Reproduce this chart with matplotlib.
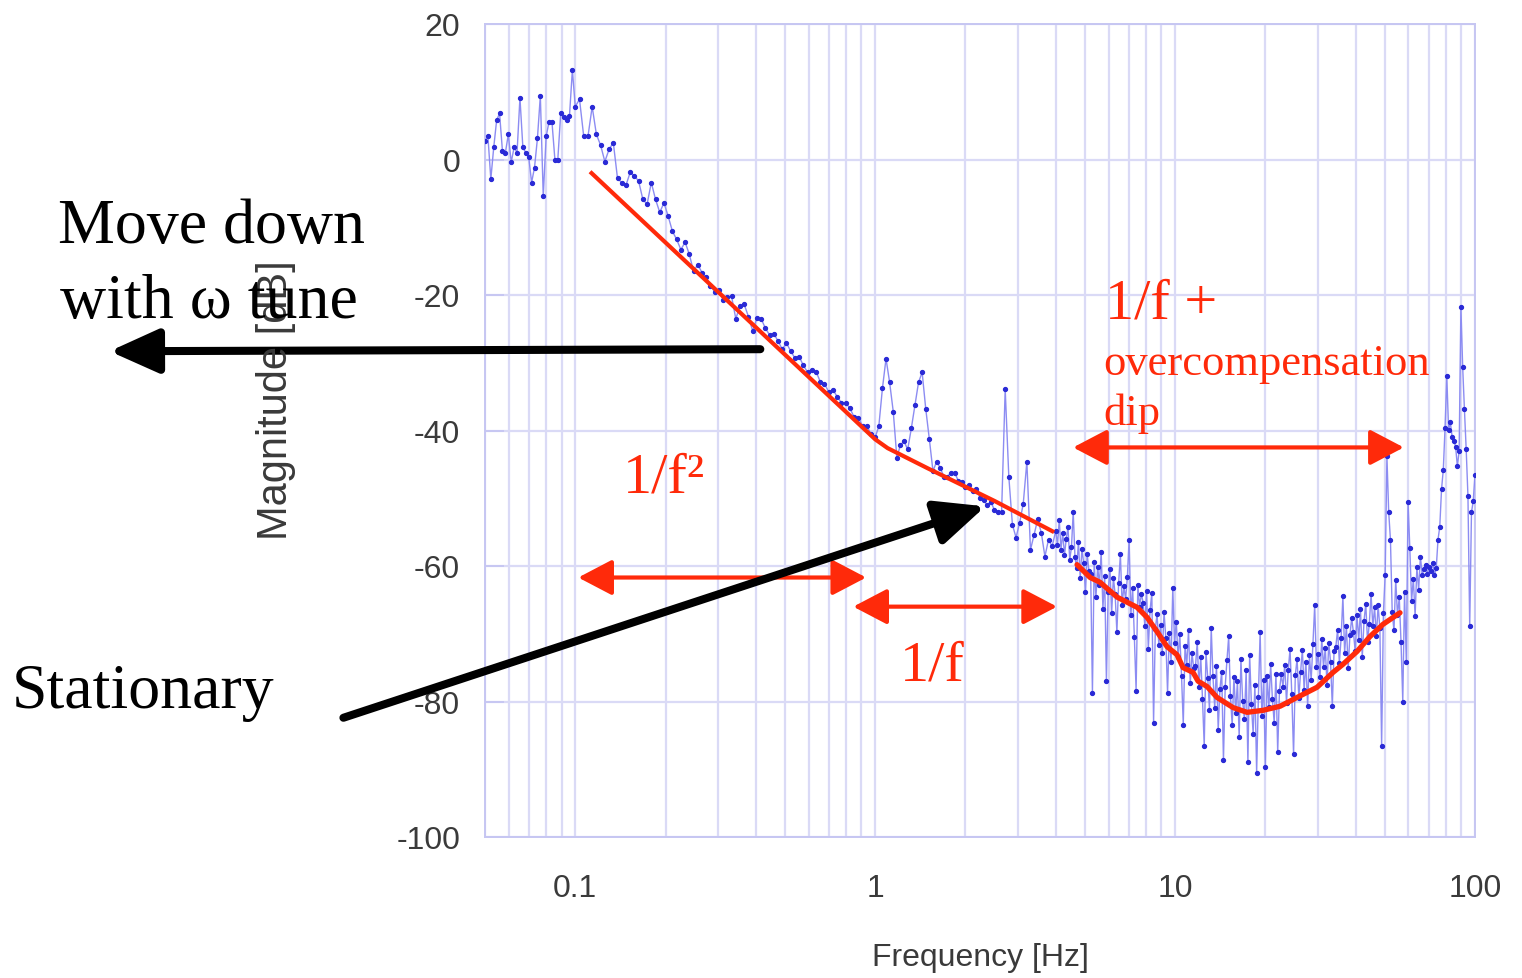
import numpy as np
import matplotlib
matplotlib.use("Agg")
import matplotlib.pyplot as plt
from matplotlib.ticker import FixedLocator, LogLocator, NullFormatter

plt.rcParams["axes.unicode_minus"] = False

# Measured magnitude (dB), one list per frequency band
mag_005_01 = [2.7, 3.4, -2.9, 1.8, 5.8, 6.8, 1.2, 1.0, 3.7, -0.4, 1.8, 1.0, 9.1, 1.8, 1.0,
              0.4, -3.4, -1.2, 3.1, 9.4, -5.4, 3.4, 5.6, 5.5, 0.0, 0.0, 6.8, 6.2, 5.9, 6.4, 13.2]

mag_01_1 = [7.8, 8.9, 3.4, 3.4, 7.8, 3.7, 2.1, -0.3, 1.5, 2.5, -2.8, -3.4, -3.8, -1.9, -2.4,
            -3.2, -5.9, -6.6, -3.4, -5.9, -7.8, -6.4, -8.4, -10.6, -11.8, -13.3, -12.2, -14.0,
            -16.5, -15.5, -16.7, -17.4, -18.7, -19.5, -19.3, -20.7, -20.3, -20.2, -23.5, -21.6,
            -21.4, -23.2, -25.3, -23.4, -23.5, -24.9, -25.9, -25.7, -26.8, -28.0, -27.1, -28.3,
            -29.3, -29.1, -30.4, -31.4, -31.1, -31.3, -32.8, -33.1, -34.3, -34.0, -35.0, -35.9,
            -35.9, -36.7, -38.0, -38.1, -39.3, -39.3, -40.5]

mag_1_4 = [-41.0, -39.4, -33.8, -29.4, -32.9, -37.2, -44.0, -42.1, -41.6, -42.8,
           -39.7, -36.3, -32.9, -31.4, -36.8, -41.3, -46.0, -44.6, -45.5, -46.8,
           -46.8, -46.2, -46.2, -47.4, -47.6, -48.3, -48.0, -49.0, -48.6, -49.9,
           -50.3, -51.0, -50.5, -51.7, -52.0, -52.1, -33.9, -46.8, -53.9, -55.8,
           -53.6, -50.8, -44.6, -57.6, -55.4, -53.1, -55.1, -58.6, -56.1, -57.1]

mag_4_20 = [-54.8, -56.9, -53.2, -57.6, -55.1, -58.4, -56.0, -54.3, -59.1, -57.2,
            -52.0, -58.7, -60.3, -56.4, -61.8, -57.5, -59.6, -63.9, -58.2, -60.8,
            -61.2, -78.7, -59.4, -64.6, -60.1, -62.8, -57.9, -66.3, -61.5, -77.0,
            -63.8, -60.4, -66.9, -61.7, -64.2, -69.8, -62.5, -58.3, -65.7, -63.0,
            -64.9, -61.6, -56.1, -67.3, -63.2, -70.5, -78.4, -62.8, -66.0, -64.1,
            -65.4, -68.9, -63.7, -72.2, -66.5, -64.0, -83.1, -69.3, -67.1, -71.6,
            -68.7, -72.9, -66.8, -70.6, -78.7, -69.9, -74.1, -63.2, -71.4, -68.2,
            -73.5, -70.1, -76.2, -83.4, -71.8, -74.6, -69.5, -77.3, -72.9, -75.1,
            -74.8, -71.2, -77.9, -73.4, -79.6, -86.6, -72.7, -76.5, -81.2, -69.1,
            -76.3, -80.9, -74.7, -84.2, -78.1, -75.6, -88.7, -77.8, -73.9, -70.4,
            -79.2, -83.5, -76.4, -81.7, -77.0, -85.3, -73.8, -79.9, -82.6, -75.4,
            -89.0, -73.1, -80.4, -84.8, -77.6, -90.5, -79.3, -69.7, -82.1, -76.8]

mag_20_100 = [-89.6, -76.2, -80.8, -74.5, -79.7, -83.1, -75.9, -87.5, -78.4, -76.0,
              -77.8, -74.6, -80.2, -75.3, -72.3, -78.9, -87.8, -76.1, -73.7, -79.5,
              -75.6, -72.4, -78.3, -74.1, -80.7, -73.2, -76.8, -71.5, -65.8, -74.9,
              -73.0, -76.4, -70.8, -74.9, -72.1, -77.6, -71.3, -74.2, -80.7, -72.5,
              -71.9, -69.4, -74.3, -70.6, -64.5, -72.8, -68.9, -75.1, -70.2, -67.7,
              -69.8, -72.6, -67.3, -70.9, -66.4, -73.5, -68.1, -65.6, -71.2, -68.5,
              -64.2, -68.9, -66.1, -70.4, -65.8, -69.2, -86.6, -67.0, -61.3, -43.8,
              -52.0, -56.1, -66.8, -69.5, -62.0, -67.3, -64.6, -71.2, -80.0, -63.8,
              -74.2, -50.5, -57.4, -65.1, -61.9, -67.4, -60.2, -63.5, -58.6, -61.3,
              -60.5, -59.8, -61.2, -60.1, -60.8, -59.5, -61.4, -60.3, -56.1, -54.2,
              -48.7, -45.8, -39.6, -32.0, -39.9, -38.8, -40.9, -41.5, -42.4, -45.3,
              -43.0, -21.8, -30.6, -36.9, -42.8, -49.7, -68.9, -52.1, -50.4, -46.5]

# Frequency bands (Hz) the lists above are sampled on, log-spaced within each band
bands = [(0.05, 0.1, False), (0.1, 1.0, False), (1.0, 4.0, False),
         (4.0, 20.0, False), (20.0, 100.0, True)]
mags = [mag_005_01, mag_01_1, mag_1_4, mag_4_20, mag_20_100]

# Hand-fitted trend lines
fit_freq = [0.112, 1.0, 1.1, 1.5, 2.5, 3.95]
fit_db = [-1.8, -41.3, -42.6, -45.6, -50.4, -55.0]

dip_freq = [4.71, 5.21, 5.62, 6.41, 7.47, 8.07, 8.71, 9.40, 10.15, 10.63, 11.48, 11.93, 12.79,
            13.80, 15.61, 17.38, 19.65, 22.39, 25.51, 29.74, 33.63, 36.31, 40.45, 44.67,
            49.36, 56.23]
dip_db = [-59.8, -61.7, -62.4, -64.6, -66.1, -67.6, -69.7, -71.9, -73.1, -75.0, -75.7, -77.0,
          -77.8, -79.4, -80.9, -81.6, -81.3, -80.7, -79.4, -77.9, -75.7, -74.5, -72.6, -70.4,
          -68.6, -66.9]

# Frequency ranges of each regime: (start Hz, end Hz, level dB)
regime_ranges = [(0.1023, 0.933, -61.7), (0.845, 4.04, -66.0), (4.57, 57.9, -42.5)]

x_ticks = [0.1, 1, 10, 100]
x_tick_labels = ["0.1", "1", "10", "100"]
y_ticks = [20, 0, -20, -40, -60, -80, -100]

RED = "#ff2a0a"
SANS = "Liberation Sans"
SERIF = "Liberation Serif"

freq = np.concatenate([np.geomspace(lo, hi, len(m), endpoint=ep)
                       for (lo, hi, ep), m in zip(bands, mags)])
mag = np.concatenate([np.asarray(m, dtype=float) for m in mags])

W, H = 1522, 979
fig = plt.figure(figsize=(W / 100, H / 100), dpi=100)
fig.patch.set_facecolor("white")
ax = fig.add_axes([485 / W, 1 - 838 / H, 990 / W, 813 / H])

ax.set_xscale("log")
ax.set_xlim(0.05, 100)
ax.set_ylim(-100, 20)

grid_c = "#dadaf6"
ax.xaxis.set_major_locator(FixedLocator(x_ticks))
ax.set_xticklabels(x_tick_labels)
ax.xaxis.set_minor_locator(LogLocator(base=10, subs=np.arange(2, 10)))
ax.xaxis.set_minor_formatter(NullFormatter())
ax.set_yticks(y_ticks)
ax.grid(True, which="both", axis="x", color=grid_c, lw=1.6)
ax.grid(True, which="major", axis="y", color=grid_c, lw=1.6)
ax.set_axisbelow(True)
for sp in ax.spines.values():
    sp.set_color("#c6c6f2")
    sp.set_linewidth(1.4)
ax.tick_params(axis="x", which="both", length=0, pad=26, labelsize=23, labelcolor="#3a3a3a")
ax.tick_params(axis="y", which="both", direction="in", length=14, width=1.3, color="#c6c6f2",
               pad=18, labelsize=23, labelcolor="#3a3a3a")
for lab in ax.get_xticklabels() + ax.get_yticklabels():
    lab.set_fontfamily(SANS)

# Measured spectrum
ax.plot(freq, mag, color="#8c8cf2", lw=1.0, marker="o", ms=2.8,
        mfc="#2a2ad6", mec="#2a2ad6", zorder=3)

# Trend lines
ax.plot(fit_freq, fit_db, color=RED, lw=3.0, solid_capstyle="butt", zorder=4)
ax.plot(dip_freq, dip_db, color=RED, lw=3.8, solid_capstyle="round", zorder=4)

for f0, f1, lev in regime_ranges:
    ax.annotate("", xy=(f1, lev), xytext=(f0, lev), zorder=5,
                arrowprops=dict(arrowstyle="<|-|>,head_length=1.05,head_width=0.55",
                                mutation_scale=20, color=RED, lw=3.0,
                                shrinkA=0, shrinkB=0))

# Axis titles
fig.text(980 / W, 1 - 958 / H, "Frequency [Hz]", ha="center", va="center",
         fontsize=23, family=SANS, color="#3a3a3a")
fig.text(276 / W, 1 - 400 / H, "Magnitude [dB]", ha="center", va="center", rotation=90,
         fontsize=30, family=SANS, color="#3a3a3a")

# Regime labels
ax.text(0.1445, -49.0, "1/f\u00b2", color=RED, fontsize=42, family=SERIF, va="baseline", zorder=6)
ax.text(1.21, -76.8, "1/f", color=RED, fontsize=42, family=SERIF, va="baseline", zorder=6)
ax.text(5.84, -23.3, "1/f +", color=RED, fontsize=42, family=SERIF, va="baseline", zorder=6)
ax.text(5.76, -31.7, "overcompensation", color=RED, fontsize=32, family=SERIF,
        va="baseline", zorder=6)
ax.text(5.76, -39.1, "dip", color=RED, fontsize=32, family=SERIF, va="baseline", zorder=6)

# Black call-outs
fig.text(58 / W, 1 - 243 / H, "Move down", fontsize=46, family=SERIF, color="black",
         va="baseline", zorder=10)
fig.text(60 / W, 1 - 318 / H, "with \u03c9 tune", fontsize=46, family=SERIF, color="black",
         va="baseline", zorder=10)
fig.text(12 / W, 1 - 708 / H, "Stationary", fontsize=46, family=SERIF, color="black",
         va="baseline", zorder=10)

black_arrow = dict(arrowstyle="-|>,head_length=1.0,head_width=0.45", mutation_scale=30,
                   color="black", lw=5.8, shrinkA=0, shrinkB=0)
ax.annotate("", xy=(0.0028, -28.3), xytext=(0.414, -28.0), annotation_clip=False,
            arrowprops=black_arrow, zorder=9)
ax.annotate("", xy=(2.33, -51.2), xytext=(0.01686, -82.4), annotation_clip=False,
            arrowprops=black_arrow, zorder=9)

fig.savefig("out.png", dpi=100, facecolor="white")
